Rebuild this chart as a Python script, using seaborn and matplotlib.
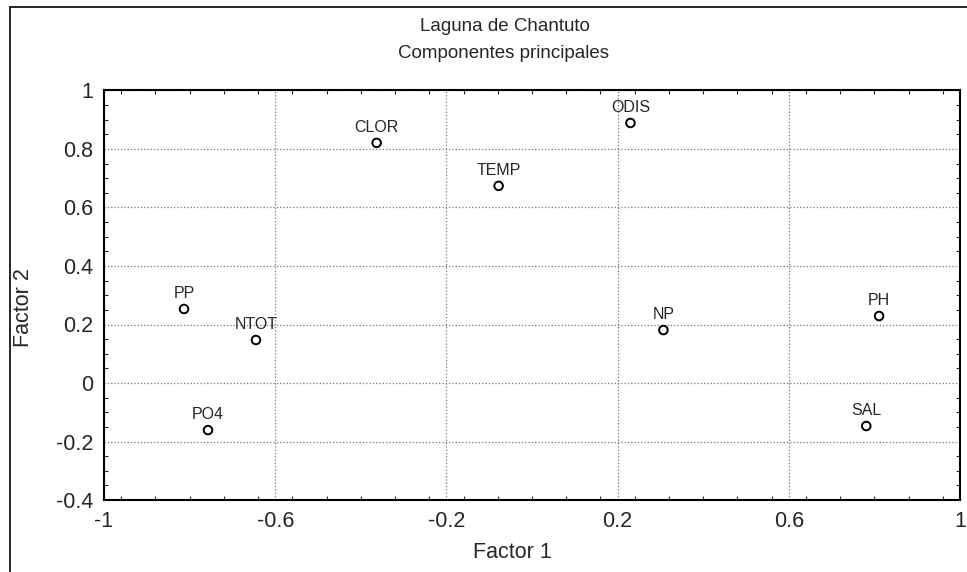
import matplotlib
matplotlib.use("Agg")
import matplotlib.pyplot as plt
import seaborn as sns
import pandas as pd
from matplotlib.lines import Line2D
from matplotlib.ticker import MultipleLocator

# datos
variables = ['CLOR', 'ODIS', 'TEMP', 'PP', 'NTOT', 'PO4', 'NP', 'PH', 'SAL']
factor1 = [-0.363, 0.230, -0.078, -0.813, -0.645, -0.757, 0.307, 0.811, 0.781]
factor2 = [0.821, 0.889, 0.674, 0.253, 0.147, -0.161, 0.181, 0.229, -0.147]
xticks = [-1, -0.6, -0.2, 0.2, 0.6, 1]
yticks = [-0.4, -0.2, 0, 0.2, 0.4, 0.6, 0.8, 1]
xlabels = ['-1', '-0.6', '-0.2', '0.2', '0.6', '1']
ylabels = ['-0.4', '-0.2', '0', '0.2', '0.4', '0.6', '0.8', '1']

dados = pd.DataFrame({'var': variables, 'f1': factor1, 'f2': factor2})

sns.set_style('white')
plt.rcParams['font.family'] = ['Liberation Sans', 'DejaVu Sans']

fig = plt.figure(figsize=(9.67, 5.72), dpi=100)
ax = fig.add_axes([104/967, 72/572, 856/967, 409.5/572])

sns.scatterplot(x='f1', y='f2', data=dados, ax=ax, marker='o', s=38,
                facecolors='none', edgecolor='black', linewidth=1.4)

for _, r in dados.iterrows():
    ax.annotate(r['var'], (r['f1'], r['f2']), xytext=(0, 5.5),
                textcoords='offset points', ha='center', va='bottom',
                fontsize=11.5)

ax.set_xlim(-1, 1)
ax.set_ylim(-0.4, 1)
ax.set_xticks(xticks)
ax.set_yticks(yticks)
ax.set_xticklabels(xlabels)
ax.set_yticklabels(ylabels)
ax.xaxis.set_minor_locator(MultipleLocator(0.08))
ax.yaxis.set_minor_locator(MultipleLocator(0.05))
ax.tick_params(axis='both', which='major', labelsize=15.5, length=0, pad=8)
ax.tick_params(axis='both', which='minor', direction='in', length=3,
               width=0.8, bottom=True, left=True, top=True, right=True)
ax.grid(True, which='major', linestyle=':', color='#777777', linewidth=0.9)
for sp in ax.spines.values():
    sp.set_color('black')
    sp.set_linewidth(1.5)

ax.set_xlabel('Factor 1', fontsize=15.5)
ax.xaxis.set_label_coords(0.4766, -0.129)
ax.xaxis.label.set_verticalalignment('center')
ax.set_ylabel('Factor 2', fontsize=15.5)
ax.yaxis.set_label_coords(-0.094, 0.469)
ax.yaxis.label.set_verticalalignment('center')

fig.text(505/967, 1 - 31/572, 'Laguna de Chantuto', ha='center', va='baseline', fontsize=13.5)
fig.text(503/967, 1 - 58/572, 'Componentes principales', ha='center', va='baseline', fontsize=13.5)

# marco exterior (lado izquierdo y superior)
fig.add_artist(Line2D([10/967, 10/967], [0.0, 1 - 7/572], color='black', lw=1.2,
                      transform=fig.transFigure))
fig.add_artist(Line2D([10/967, 1.0], [1 - 7/572, 1 - 7/572], color='black', lw=1.2,
                      transform=fig.transFigure))

fig.savefig('out.png', dpi=100)
